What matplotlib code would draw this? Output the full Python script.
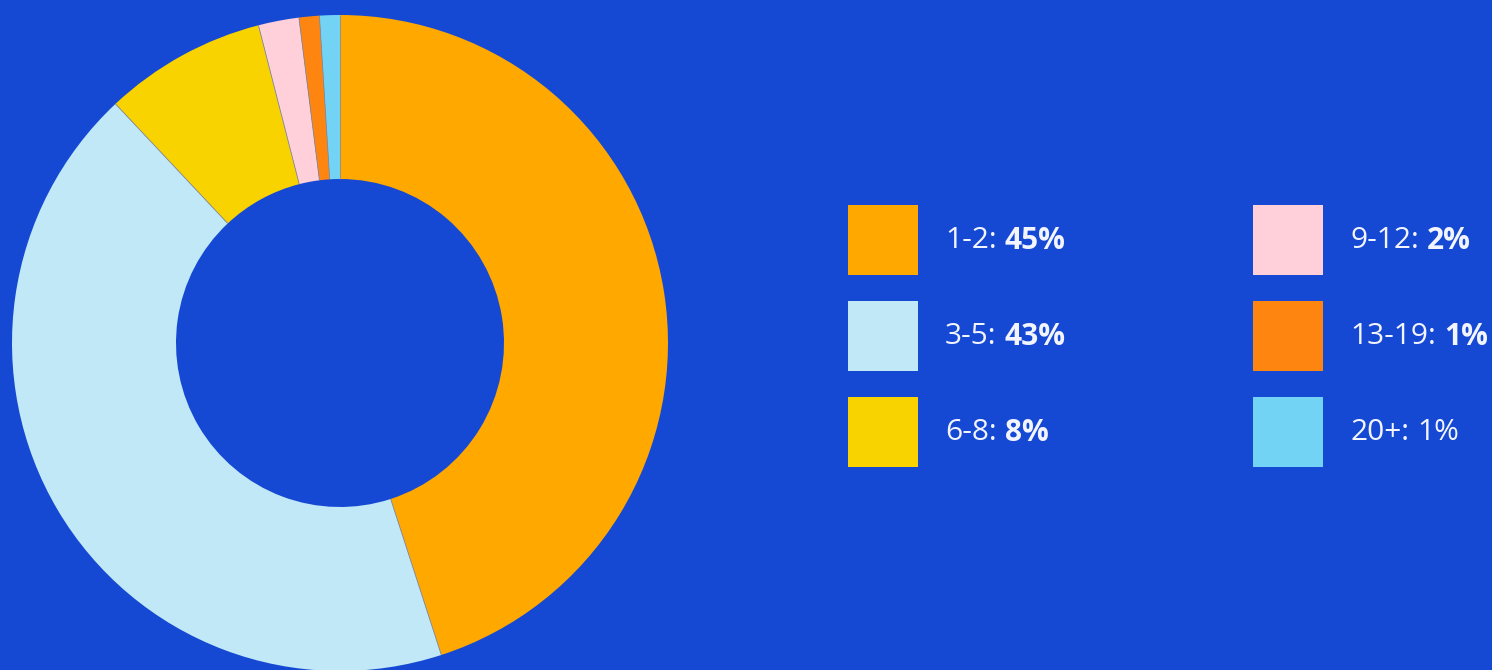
import matplotlib
matplotlib.use("Agg")
import matplotlib.pyplot as plt
import numpy as np
from matplotlib.patches import Rectangle

# age bands and their share of the total
labels = ["1-2", "3-5", "6-8", "9-12", "13-19", "20+"]
shares = [45, 43, 8, 2, 1, 1]
colors = ["#FFA800", "#C0E8F6", "#F8D300", "#FFD0D9", "#FF8511", "#72D3F5"]
bold_value = [True, True, True, True, True, False]

bg = "#1649D3"
W, H = 1492, 670

fig = plt.figure(figsize=(W / 100, H / 100), dpi=100, facecolor=bg)

# donut, placed in pixel terms: centre (340, 343), radius 328
cx, cy, r = 340, 343, 328
ax = fig.add_axes([(cx - r) / W, (H - cy - r) / H, 2 * r / W, 2 * r / H])
ax.set_facecolor(bg)
ax.pie(shares, colors=colors, startangle=90, counterclock=False, radius=1,
       wedgeprops=dict(width=0.5, edgecolor="none", linewidth=0))

# thin seams between neighbouring slices
bounds = np.cumsum([0] + shares) / sum(shares)
for b in bounds[:-1]:
    a = np.pi / 2 - 2 * np.pi * b
    ax.plot([0.5 * np.cos(a), np.cos(a)], [0.5 * np.sin(a), np.sin(a)],
            color="#8a8a9a", lw=0.6, solid_capstyle="butt")

ax.set_xlim(-1, 1)
ax.set_ylim(-1, 1)
ax.set_aspect("equal")
ax.axis("off")

# legend in two columns of three
lg = fig.add_axes([0, 0, 1, 1])
lg.set_xlim(0, W)
lg.set_ylim(H, 0)
lg.axis("off")

renderer = fig.canvas.get_renderer()
col_x = [848, 1253]
row_y = [205, 301, 397]
box = 70
font = "Open Sans"
fs = 21.5
txt_color = "#F2F5FF"

for i, (lab, val) in enumerate(zip(labels, shares)):
    x0 = col_x[i // 3]
    y0 = row_y[i % 3]
    lg.add_patch(Rectangle((x0, y0), box, box, facecolor=colors[i],
                           edgecolor="none"))
    tx = x0 + box + 27
    ty = y0 + box / 2 + 1
    t1 = lg.text(tx, ty, f"{lab}:", fontsize=fs, color=txt_color,
                 family=font, va="center", ha="left")
    bb = t1.get_window_extent(renderer=renderer)
    tx2 = tx + bb.width + 8
    lg.text(tx2, ty, f"{val}%", fontsize=fs, color=txt_color, family=font,
            fontweight="bold" if bold_value[i] else "normal",
            va="center", ha="left")

fig.savefig("out.png", dpi=100, facecolor=bg)
